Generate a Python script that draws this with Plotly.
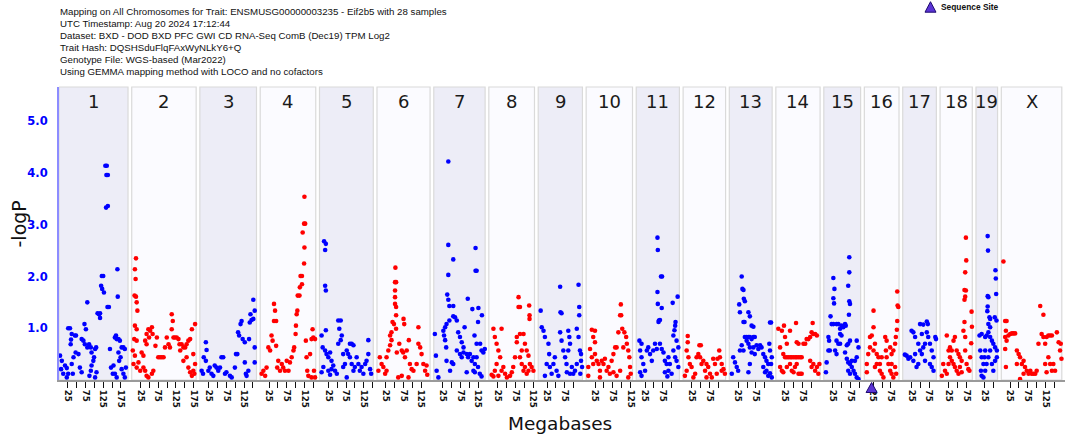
import plotly.graph_objects as go

# ---------------- data ----------------
CHROMS = ['1', '2', '3', '4', '5', '6', '7', '8', '9', '10', '11', '12', '13', '14', '15', '16', '17', '18', '19', 'X']
CHR_LEN = [195, 182, 160, 157, 152, 150, 145, 129, 125, 131, 122, 120, 121, 125, 104, 98, 95, 91, 61, 171]

HEADER_LINES = [
    "Mapping on All Chromosomes for Trait: ENSMUSG00000003235 - Eif2b5 with 28 samples",
    "UTC Timestamp: Aug 20 2024 17:12:44",
    "Dataset: BXD - DOD BXD PFC GWI CD RNA-Seq ComB (Dec19) TPM Log2",
    "Trait Hash: DQSHSduFlqFAxWyNLkY6+Q",
    "Genotype File: WGS-based (Mar2022)",
    "Using GEMMA mapping method with LOCO and no cofactors",
]

Y_TICKS = [1, 2, 3, 4, 5]
Y_TICK_TEXT = ['1.0', '2.0', '3.0', '4.0', '5.0']

SEQ_SITE_CHR = '16'
SEQ_SITE_MB = 20.5

# (Mb, -logP) per chromosome
chr1_pts = [(3,.47),(8,.37),(6,.21),(12,.12),(17,.28),(26,1.0),(31,1.0),(22,.23),(26,.12),(22,.05),(34,.78),(33,.69),(36,.89),(39,.12),(36,.31),(41,.44),(45,.86),(48,.86),(47,.53),(55,.5),(59,.24),(64,.15),(64,.79),(69,.76),(73,.69),(72,1.08),(76,.98),(80,1.5),(80,.63),(85,.69),(90,.63),(92,.53),(86,.08),(90,.18),(92,.28),(97,.37),(99,.44),(102,.6),(105,.63),(106,.15),(102,.05),(109,1.29),(113,1.27),(116,1.29),(116,1.2),(121,2.01),(125,2.01),(119,1.82),(122,1.76),(127,1.69),(131,4.14),(135,4.14),(134,3.96),(138,3.96),(133,3.33),(138,3.36),(137,1.41),(141,1.41),(144,.6),(147,.24),(152,.12),(165,2.14),(166,1.61),(158,.82),(161,.86),(163,.79),(168,.79),(172,.76),(177,.63),(182,.63),(186,.6),(168,.53),(170,.37),(174,.44),(177,.21),(182,.12),(186,.05),(189,.24),(154,.28),(158,.12),(163,.05)]
chr2_pts = [(12,2.35),(9,2.14),(11,1.95),(8,1.63),(12,1.61),(14,1.5),(16,1.34),(9,1.05),(14,.98),(7,.79),(14,.76),(3,.57),(9,.47),(5,.31),(14,.24),(19,.34),(24,.18),(28,.53),(33,.47),(38,.76),(42,.89),(47,.98),(52,.95),(57,1.02),(59,.89),(42,.69),(49,.82),(33,.24),(38,.18),(42,.08),(47,.05),(57,.12),(61,.18),(67,.66),(71,.82),(75,.44),(80,.44),(85,.44),(90,.44),(94,.63),(99,.82),(104,.69),(108,.63),(113,1.27),(116,1.14),(113,.98),(118,.82),(122,.82),(127,.82),(132,.79),(135,.69),(137,.57),(141,.69),(146,.63),(151,.63),(155,.69),(160,.76),(165,.79),(170,.98),(179,1.08),(174,.5),(160,.24),(165,.15),(170,.08),(174,.18),(179,.31),(177,.12),(146,.37),(155,.44)]
chr3_pts = [(17,.73),(19,.58),(11,.44),(17,.37),(9,.12),(5,.18),(24,.18),(28,.24),(33,.12),(38,.08),(42,.28),(47,.24),(52,.18),(57,.24),(61,.44),(66,.44),(71,.12),(75,.15),(85,.08),(90,.05),(99,.24),(102,.5),(106,.5),(108,.92),(111,.86),(115,1.08),(118,1.14),(121,.79),(127,.73),(132,.08),(137,.18),(139,.79),(141,1.11),(143,1.27),(146,1.16),(151,1.18),(151,1.55),(155,1.34),(155,.63),(155,.34),(127,.34),(130,.12)]
chr4_pts = [(4,.12),(9,.18),(14,.08),(18,.24),(23,.63),(28,.57),(32,.86),(35,.76),(39,1.47),(42,1.34),(39,1.14),(45,1.14),(45,.66),(48,.24),(51,.37),(56,.18),(61,.31),(65,.24),(70,.18),(75,.37),(80,.18),(84,.34),(89,.44),(94,.57),(96,.63),(100,.89),(101,1.05),(103,1.27),(105,1.34),(106,1.63),(111,1.63),(112,1.79),(114,2.01),(118,2.01),(118,1.85),(124,2.25),(125,2.56),(120,2.85),(124,3.02),(127,3.02),(125,3.54),(129,.76),(131,.44),(133,.18),(136,.08),(141,.5),(145,.79),(150,.82),(155,.79),(148,.98),(152,.18),(155,.05),(145,.05)]
chr5_pts = [(13,2.68),(18,2.63),(16,2.51),(16,1.82),(18,1.73),(18,.96),(6,.86),(9,.63),(16,.57),(20,.5),(25,.44),(30,.53),(34,.37),(6,.15),(11,.25),(25,.18),(30,.1),(34,.21),(39,.28),(44,.18),(49,.12),(53,1.15),(60,1.15),(56,.99),(63,.86),(60,.77),(53,.7),(67,.5),(72,.31),(77,.57),(81,.5),(86,.7),(91,.7),(96,.67),(86,.44),(91,.31),(96,.18),(100,.25),(105,.44),(110,.31),(114,.18),(119,.25),(124,.12),(129,.31),(133,.37),(138,.77),(138,.5),(143,.21),(146,.12),(77,.05),(67,.25)]
chr6_pts = [(52,2.17),(51,1.89),(54,1.89),(51,1.73),(51,1.6),(51,1.47),(54,1.41),(54,1.25),(44,1.12),(48,1.08),(54,.99),(75,1.18),(77,1.08),(117,1.02),(41,.92),(37,.86),(41,.77),(37,.67),(32,.57),(27,.44),(8,.44),(13,.31),(4,.18),(18,.25),(23,.12),(27,.18),(56,.53),(63,.7),(70,.57),(74,.53),(79,.44),(84,.57),(90,.77),(93,.31),(98,.21),(103,.18),(112,.31),(117,.7),(122,.63),(126,.5),(131,.31),(136,.18),(140,.28),(142,.1),(60,.05),(70,.08),(89,.05)]
chr7_pts = [(41,4.22),(41,2.61),(118,2.55),(55,2.33),(118,2.11),(121,2.11),(41,2.03),(38,1.65),(41,1.55),(44,1.43),(55,1.43),(96,1.57),(109,1.37),(126,1.39),(55,1.23),(60,1.21),(65,1.15),(44,1.15),(36,1.08),(32,1.02),(27,.95),(29,.86),(32,.77),(35,.63),(3,.89),(6,.47),(8,.18),(13,.05),(69,.92),(74,.83),(79,.73),(84,.63),(87,1.02),(115,.86),(125,1.12),(136,1.25),(121,.7),(131,.7),(135,.57),(140,.53),(144,.6),(65,.57),(74,.5),(79,.44),(84,.53),(93,.5),(97,.44),(102,.5),(107,.37),(112,.44),(116,.31),(121,.44),(125,.25),(112,.18),(116,.15),(130,.12),(135,.07),(51,.34),(55,.31),(93,.15),(46,.18),(36,.37)]
chr8_pts = [(13,.99),(36,.99),(17,.83),(22,.7),(27,.57),(32,.44),(22,.31),(17,.18),(8,.1),(13,.07),(27,.08),(36,.18),(41,.25),(46,.12),(51,.05),(60,.08),(65,.15),(69,.25),(74,.44),(79,.83),(79,.73),(84,1.6),(84,1.41),(88,1.41),(88,.89),(93,.57),(98,.89),(102,.7),(114,1.44),(115,1.25),(115,1.18),(107,.57),(112,.47),(116,.31),(121,.25),(126,.18),(88,.44),(93,.31),(98,.18),(102,.25),(107,.12),(112,.18)]
chr9_pts = [(7,1.34),(10,1.02),(15,.95),(19,.83),(29,.7),(31,.5),(24,.31),(19,.08),(33,.25),(38,.12),(43,.31),(47,.44),(52,.18),(57,.08),(62,1.8),(63,1.31),(66,1.29),(62,.92),(66,.76),(71,.57),(76,.44),(80,.31),(85,.95),(88,.83),(90,.7),(85,.57),(95,.25),(99,.12),(104,.18),(109,.31),(114,1.84),(116,1.41),(116,1.25),(109,.99),(114,.83),(118,.57),(121,.5),(121,.37),(124,.25),(119,.12),(90,.12),(81,.15)]
chr10_pts = [(16,.97),(25,.95),(20,.83),(25,.73),(11,.6),(6,.25),(16,.44),(20,.31),(25,.5),(30,.37),(35,.31),(39,.18),(44,.37),(49,.31),(53,.41),(58,.18),(63,.25),(67,.12),(72,.37),(77,.5),(82,.63),(86,.63),(91,.92),(98,1.46),(96,1.25),(99,1.25),(102,.99),(105,.63),(108,.92),(113,.83),(115,.7),(119,.57),(122,.44),(124,.25),(126,.12),(119,.05),(6,.08),(39,.05),(77,.15),(86,.08),(96,.18)]
chr11_pts = [(60,2.75),(61,2.51),(70,2.0),(73,2.0),(60,1.7),(61,1.47),(72,1.39),(64,1.15),(63,1.12),(67,1.16),(117,1.61),(103,1.49),(111,1.12),(110,1.05),(108,.96),(105,.86),(114,.76),(119,.63),(105,.57),(110,.44),(114,.37),(119,.25),(9,.76),(15,.7),(11,.57),(15,.44),(20,.31),(25,.18),(30,.57),(34,.63),(39,.5),(44,.37),(48,.57),(53,.7),(58,.6),(67,.7),(72,.6),(77,.53),(81,.37),(86,.31),(91,.44),(95,.31),(81,.15),(88,.07),(91,.18),(100,.12),(11,.15),(15,.08)]
chr12_pts = [(13,.85),(13,.73),(10,.57),(15,.44),(10,.18),(5,.08),(19,.31),(24,.25),(29,.05),(34,.12),(38,.44),(43,.5),(46,.67),(50,.67),(48,.44),(52,.31),(57,.37),(62,.18),(66,.31),(71,.25),(76,.12),(81,.05),(85,.41),(90,.31),(97,.41),(102,.57),(104,.44),(109,.31),(114,.21),(118,.12),(109,.18),(95,.12),(66,.05)]
chr13_pts = [(35,2.0),(37,1.76),(40,1.74),(28,1.46),(30,1.31),(41,1.57),(44,1.52),(43,1.12),(40,1.12),(54,1.31),(58,1.23),(63,1.05),(68,1.03),(115,1.11),(118,1.11),(44,.83),(49,.83),(54,.83),(58,.83),(63,.79),(68,.83),(72,.83),(49,.76),(54,.7),(58,.63),(63,.53),(68,.63),(72,.5),(77,.67),(82,.6),(87,.67),(91,.63),(96,.5),(101,.44),(105,.37),(110,.31),(113,.7),(115,.57),(120,.44),(118,.31),(105,.18),(110,.08),(115,.13),(120,.05),(96,.25),(101,.15),(11,.44),(16,.34),(21,.25),(25,.18),(7,.12),(30,.57),(35,.67),(40,.57),(54,.15),(58,.31)]
chr14_pts = [(7,.99),(23,1.05),(17,.95),(40,.95),(57,1.1),(26,.83),(31,.7),(12,.63),(21,.5),(26,.44),(31,.44),(36,.44),(41,.44),(45,.44),(50,.44),(55,.44),(59,.44),(64,.44),(69,.44),(73,.44),(78,.7),(83,.7),(87,.79),(92,.79),(97,.83),(101,.92),(104,1.1),(106,.89),(111,.89),(116,.86),(59,.73),(64,.7),(12,.25),(17,.18),(21,.15),(31,.25),(40,.31),(45,.18),(50,.15),(54,.25),(59,.31),(64,.12),(69,.12),(73,.12),(97,.37),(101,.25),(106,.31),(111,.18),(116,.25),(120,.12),(123,.31)]
chr15_pts = [(72,2.37),(72,2.08),(69,1.82),(72,1.52),(74,1.47),(71,1.26),(27,1.97),(30,1.76),(27,1.58),(29,1.48),(19,1.23),(22,1.08),(27,1.08),(36,1.08),(41,1.08),(46,.99),(50,1.05),(55,1.02),(60,1.08),(62,1.05),(46,.89),(50,.86),(41,.7),(36,.76),(13,.83),(15,.76),(13,.57),(17,.57),(32,.57),(36,.5),(46,.7),(65,.67),(69,.7),(60,.53),(74,.76),(93,.76),(98,.63),(65,.41),(69,.34),(74,.31),(79,.25),(84,.18),(88,.12),(93,.05),(98,.02),(79,.37),(88,.37),(93,.44),(69,.18),(74,.12),(8,.34),(6,.15)]
chr16_pts = [(26,1.34),(26,1.02),(21,.86),(16,.83),(11,.5),(7,.31),(7,.15),(16,.63),(26,.57),(30,.7),(35,.5),(40,.44),(35,.31),(30,.25),(44,.18),(49,.12),(54,.05),(59,.83),(63,.76),(61,.57),(63,.44),(68,.31),(73,.18),(77,.12),(82,.05),(77,.5),(82,.57),(87,.7),(89,.83),(92,.97),(93,1.14),(94,1.44),(96,1.41),(93,1.71),(49,.44),(44,.31),(73,.63),(77,.31),(87,.25),(90,.12)]
chr17_pts = [(6,.49),(11,.47),(16,.41),(21,.44),(25,.95),(30,.92),(35,.83),(39,.25),(49,1.08),(58,1.07),(54,.89),(44,.7),(49,.57),(54,.5),(58,.63),(63,.7),(68,1.13),(71,1.08),(68,.92),(72,.83),(77,.7),(82,.57),(87,.44),(92,.83),(94,.79),(77,.31),(82,.25),(87,.18),(44,.31),(63,.37),(30,.37),(35,.5)]
chr18_pts = [(73,2.75),(74,2.31),(71,2.08),(69,1.74),(73,1.73),(71,1.61),(69,1.55),(89,1.32),(88,.71),(90,1.03),(69,1.12),(66,.95),(71,.83),(19,.86),(24,.57),(28,.63),(33,.57),(38,.76),(42,.83),(47,.57),(52,.5),(56,.44),(61,.37),(9,.31),(14,.18),(19,.12),(24,.31),(28,.44),(33,.37),(38,.31),(42,.25),(47,.18),(52,.12),(56,.25),(61,.15),(75,.31),(80,.21),(85,.44),(83,.18),(5,.08),(71,.57)]
chr19_pts = [(33,2.78),(34,2.5),(55,2.12),(56,1.96),(57,1.66),(33,1.62),(35,1.6),(33,1.42),(32,1.33),(38,1.21),(40,1.18),(35,1.08),(40,1.02),(53,1.21),(58,1.15),(10,.86),(16,.89),(26,.83),(30,.86),(35,.92),(40,.83),(45,.76),(49,.7),(54,.63),(59,.57),(12,.57),(16,.44),(21,.31),(14,.18),(16,.08),(21,.05),(26,.18),(30,.31),(35,.44),(40,.57),(45,.31),(49,.18),(54,.37),(59,.44),(26,.57),(24,.44)]
chrX_pts = [(6,2.29),(11,1.14),(15,1.14),(13,.95),(11,.83),(15,.76),(20,.86),(25,.89),(30,.9),(34,.9),(39,.9),(11,.6),(13,.25),(44,.57),(49,.5),(53,.44),(58,.31),(63,.37),(67,.25),(72,.18),(77,.12),(82,.18),(86,.12),(91,.12),(96,.12),(100,.18),(105,.7),(110,1.43),(119,1.26),(114,.89),(119,.83),(124,.7),(128,.83),(133,.86),(138,.86),(143,.86),(147,.31),(152,.18),(157,.92),(162,.73),(166,.57),(168,.7),(170,.41),(133,.44),(138,.31),(143,.18),(124,.31),(128,.15),(53,.02),(63,.12),(44,.31)]

CHR_POINTS = [chr1_pts, chr2_pts, chr3_pts, chr4_pts, chr5_pts, chr6_pts, chr7_pts, chr8_pts,
              chr9_pts, chr10_pts, chr11_pts, chr12_pts, chr13_pts, chr14_pts, chr15_pts,
              chr16_pts, chr17_pts, chr18_pts, chr19_pts, chrX_pts]

# ---------------- layout helpers ----------------
GAP = 10.5  # Mb of spacing between chromosome panels
offsets = []
acc = 0.0
for L in CHR_LEN:
    offsets.append(acc)
    acc += L + GAP
x_end = offsets[-1] + CHR_LEN[-1]

W, H = 1065, 436
ML, MR, MT, MB = 59, 0, 87, 56
PW = W - ML - MR
PH = H - MT - MB


def px_to_paper_x(px):
    return (px - ML) / PW


def py_to_paper_y(py):
    return (H - MB - py) / PH


BLUE = '#0000ff'
RED = '#ff0000'
SEQ_FILL = '#5b34d6'
SEQ_LINE = '#1e0a6e'

fig = go.Figure()

bx, by, rx, ry = [], [], [], []
for i, pts in enumerate(CHR_POINTS):
    for mb, lp in pts:
        if i % 2 == 0:
            bx.append(offsets[i] + mb); by.append(lp)
        else:
            rx.append(offsets[i] + mb); ry.append(lp)

marker_common = dict(size=4.6, line=dict(width=0))
fig.add_trace(go.Scatter(x=bx, y=by, mode='markers', marker=dict(color=BLUE, **marker_common),
                         showlegend=False, hoverinfo='skip'))
fig.add_trace(go.Scatter(x=rx, y=ry, mode='markers', marker=dict(color=RED, **marker_common),
                         showlegend=False, hoverinfo='skip'))

shapes = []
annotations = []
for i, (c, L) in enumerate(zip(CHROMS, CHR_LEN)):
    fill = '#ededf7' if i % 2 == 0 else '#fbfbff'
    shapes.append(dict(type='rect', xref='x', yref='paper', x0=offsets[i], x1=offsets[i] + L,
                       y0=0, y1=1, fillcolor=fill, line=dict(color='#dadada', width=1.2),
                       layer='below'))
    annotations.append(dict(x=offsets[i] + L / 2, y=py_to_paper_y(101.5), xref='x', yref='paper',
                            text=c, showarrow=False, xanchor='center', yanchor='middle',
                            font=dict(family='DejaVu Sans', size=18, color='#1a1a1a')))

# sequence site marker just below the x axis (x from data)
si = CHROMS.index(SEQ_SITE_CHR)
shapes.append(dict(type='path', xref='x', yref='paper', xsizemode='pixel', ysizemode='pixel',
                   xanchor=offsets[si] + SEQ_SITE_MB, yanchor=0,
                   path='M -5.5,-12.5 L 5.5,-12.5 L 0,-2.5 Z', fillcolor=SEQ_FILL,
                   line=dict(color=SEQ_LINE, width=1), layer='above'))

# x ticks every 25 Mb, labels at 25, 75, 125, 175
tickvals, ticktext = [], []
for i, L in enumerate(CHR_LEN):
    p = 25
    while p < L:
        tickvals.append(offsets[i] + p)
        ticktext.append(str(p) if (p - 25) % 50 == 0 else '')
        p += 25

# header text
line_centers = [11.6, 23.5, 35.4, 47.3, 59.2, 71.1]
for txt, cy in zip(HEADER_LINES, line_centers):
    annotations.append(dict(x=px_to_paper_x(58), y=py_to_paper_y(cy), xref='paper', yref='paper',
                            text=txt, showarrow=False, xanchor='left', yanchor='middle',
                            font=dict(family='Liberation Sans', size=9.7, color='#111111')))

# legend: sequence site
annotations.append(dict(x=px_to_paper_x(939), y=py_to_paper_y(6.8), xref='paper', yref='paper',
                        text='<b>Sequence Site</b>', showarrow=False, xanchor='left', yanchor='middle',
                        font=dict(family='Liberation Sans', size=8.4, color='#111111')))
shapes.append(dict(type='path', xref='paper', yref='paper', xsizemode='pixel', ysizemode='pixel',
                   xanchor=px_to_paper_x(930.5), yanchor=py_to_paper_y(7.2),
                   path='M -5.5,-5 L 5.5,-5 L 0,5.5 Z', fillcolor=SEQ_FILL,
                   line=dict(color=SEQ_LINE, width=1), layer='above'))

# axis titles
annotations.append(dict(x=px_to_paper_x(18.5), y=py_to_paper_y(224), xref='paper', yref='paper',
                        text='-logP', textangle=-90, showarrow=False, xanchor='center', yanchor='middle',
                        font=dict(family='DejaVu Sans', size=19, color='#111111')))
annotations.append(dict(x=px_to_paper_x(560), y=py_to_paper_y(423.5), xref='paper', yref='paper',
                        text='Megabases', showarrow=False, xanchor='center', yanchor='middle',
                        font=dict(family='DejaVu Sans', size=18.5, color='#111111')))

fig.update_layout(
    width=W, height=H,
    margin=dict(l=ML, r=MR, t=MT, b=MB, pad=0),
    paper_bgcolor='white', plot_bgcolor='white',
    shapes=shapes, annotations=annotations,
    showlegend=False,
    xaxis=dict(range=[0, x_end + 9], showgrid=False, zeroline=False,
               showline=True, linecolor='#9a9a9a', linewidth=2,
               tickmode='array', tickvals=tickvals, ticktext=ticktext, tickangle=90,
               ticks='outside', ticklen=6, tickwidth=1, tickcolor='#111111',
               tickfont=dict(family='DejaVu Sans', size=8.6, color='#111111', weight='bold')),
    yaxis=dict(range=[0, 5.66], showgrid=False, zeroline=False,
               showline=True, linecolor='#8c8cff', linewidth=2,
               tickmode='array', tickvals=Y_TICKS, ticktext=Y_TICK_TEXT,
               ticks='', ticklabelstandoff=7,
               tickfont=dict(family='DejaVu Sans', size=11.5, color='#0000ff', weight='bold')),
)

fig.write_html("out.html", config={'displayModeBar': False},
               post_script="document.body.style.margin='0';document.body.style.overflow='hidden';")
